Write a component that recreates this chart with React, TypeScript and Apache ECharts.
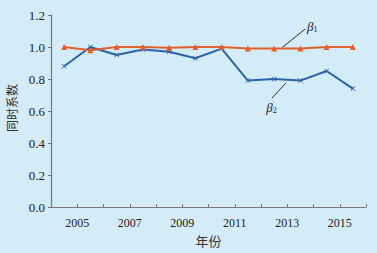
import React, { useEffect, useRef } from "react";
import * as echarts from "echarts";

const years = [2004, 2005, 2006, 2007, 2008, 2009, 2010, 2011, 2012, 2013, 2014, 2015];
const beta1 = [1.0, 0.98, 1.0, 1.0, 0.995, 1.0, 1.0, 0.99, 0.99, 0.99, 1.0, 1.0];
const beta2 = [0.88, 1.0, 0.95, 0.985, 0.97, 0.93, 0.99, 0.79, 0.80, 0.79, 0.85, 0.74];
const labeledYears = [2005, 2007, 2009, 2011, 2013, 2015];
const yTicks = [0, 0.2, 0.4, 0.6, 0.8, 1.0, 1.2];

const BG = "#d4ebf8";
const ORANGE = "#e0612e";
const BLUE = "#2b63a6";
const SERIF = "'Liberation Serif', 'Times New Roman', serif";
const CJK = "'Noto Sans CJK SC', sans-serif";
const CROSS = "path://M0,1L1,0L5,4L9,0L10,1L6,5L10,9L9,10L5,6L1,10L0,9L4,5Z";

export default function App() {
  const ref = useRef<HTMLDivElement>(null);
  useEffect(() => {
    if (!ref.current) return;
    const chart = echarts.init(ref.current, null, { renderer: "svg" });
    const base = years[0];
    const pts = (arr: number[]) => arr.map((v, i) => [years[i] - base + 0.5, v]);
    chart.setOption({
      animation: false,
      backgroundColor: BG,
      grid: { left: 51, right: 11, top: 15, bottom: 46, containLabel: false, outerBoundsMode: "none" },
      xAxis: {
        type: "value",
        min: 0,
        max: years.length,
        interval: 1,
        name: "年份",
        nameLocation: "middle",
        nameGap: 26,
        nameTextStyle: { fontFamily: CJK, fontSize: 13, color: "#333" },
        axisLine: { show: true, lineStyle: { color: "#777", width: 1.2 } },
        axisTick: { show: true, inside: true, length: 3, lineStyle: { color: "#777" } },
        splitLine: { show: false },
        axisLabel: {
          fontFamily: SERIF,
          fontSize: 12,
          color: "#222",
          margin: 10,
          formatter: (v: number) => {
            const y = Math.round(v) + base;
            return labeledYears.includes(y) ? String(y) : "";
          },
        },
      },
      yAxis: {
        type: "value",
        min: yTicks[0],
        max: yTicks[yTicks.length - 1],
        interval: 0.2,
        name: "同时系数",
        nameLocation: "middle",
        nameGap: 28,
        nameRotate: 90,
        nameTextStyle: { fontFamily: CJK, fontSize: 12, color: "#333", padding: [0, 0, 0, 6] },
        axisLine: { show: true, lineStyle: { color: "#777", width: 1.2 } },
        axisTick: { show: true, length: 3, lineStyle: { color: "#777" } },
        splitLine: { show: false },
        axisLabel: {
          fontFamily: SERIF,
          fontSize: 13,
          color: "#222",
          margin: 6,
          formatter: (v: number) => v.toFixed(1),
        },
      },
      series: [
        {
          name: "β2",
          type: "line",
          data: pts(beta2),
          symbol: CROSS,
          symbolSize: 5,
          lineStyle: { color: BLUE, width: 2 },
          itemStyle: { color: BLUE },
          z: 2,
        },
        {
          name: "β1",
          type: "line",
          data: pts(beta1),
          symbol: "triangle",
          symbolSize: 6,
          lineStyle: { color: ORANGE, width: 2 },
          itemStyle: { color: ORANGE },
          z: 3,
        },
      ],
    });

    const px = (x: number, y: number) =>
      chart.convertToPixel({ gridIndex: 0 }, [x, y]) as number[];
    const l1a = px(8.8, 0.996), l1b = px(9.68, 1.112);
    const t1 = px(9.75, 1.13);
    const l2a = px(8.95, 0.775), l2b = px(8.42, 0.681);
    const t2 = px(8.2, 0.625);
    const rich = {
      b: { fontFamily: SERIF, fontStyle: "italic", fontSize: 13, fill: "#222" },
      s: { fontFamily: SERIF, fontSize: 8, fill: "#222", padding: [6, 0, 0, 0] },
    };
    chart.setOption({
      graphic: [
        { type: "line", shape: { x1: l1a[0], y1: l1a[1], x2: l1b[0], y2: l1b[1] }, style: { stroke: "#333", lineWidth: 1 } },
        { type: "line", shape: { x1: l2a[0], y1: l2a[1], x2: l2b[0], y2: l2b[1] }, style: { stroke: "#333", lineWidth: 1 } },
        { type: "text", x: t1[0], y: t1[1], style: { text: "{b|β}{s|1}", rich, verticalAlign: "middle" } },
        { type: "text", x: t2[0], y: t2[1], style: { text: "{b|β}{s|2}", rich, verticalAlign: "middle" } },
      ],
    });
    return () => chart.dispose();
  }, []);
  return <div ref={ref} style={{ width: 377, height: 253, position: "absolute", left: 0, top: 0 }} />;
}
